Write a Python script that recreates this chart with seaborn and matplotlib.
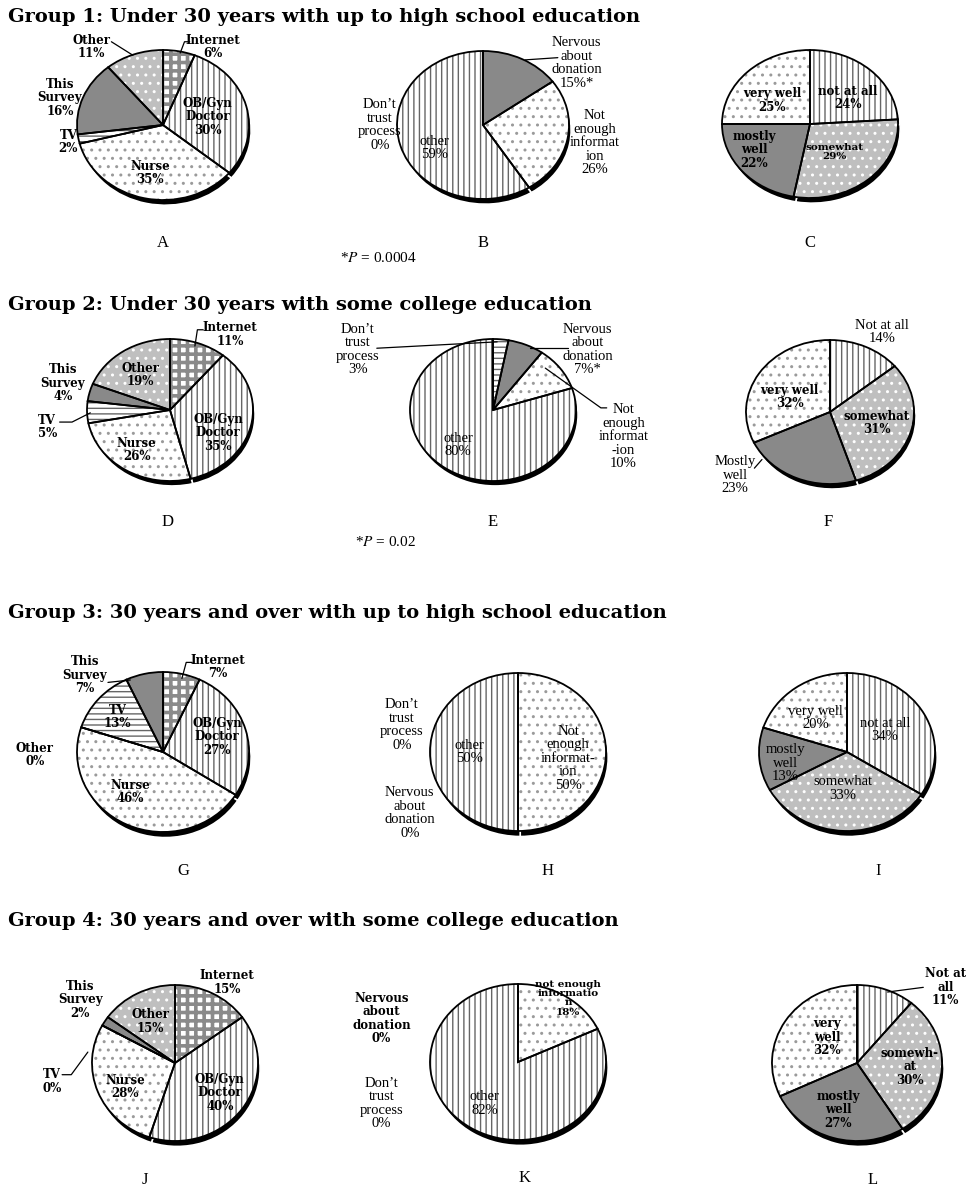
import numpy as np
import pandas as pd
import seaborn as sns
import matplotlib.pyplot as plt

sns.set_theme(style="white")
plt.rcParams["font.family"] = ["DejaVu Serif"]
plt.rcParams["mathtext.fontset"] = "stix"
plt.rcParams["text.color"] = "black"

W, H = 966, 1193

# ---- data ----
group_titles = [
    "Group 1: Under 30 years with up to high school education",
    "Group 2: Under 30 years with some college education",
    "Group 3: 30 years and over with up to high school education",
    "Group 4: 30 years and over with some college education",
]
panel_letters = list("ABCDEFGHIJKL")
p_notes = ["*$P$ = 0.0004", "*$P$ = 0.02"]

# where did you hear about cord blood donation
a_cats = ["Internet", "OB/Gyn Doctor", "Nurse", "TV", "This Survey", "Other"]
a_vals = [6, 30, 35, 2, 16, 11]
d_cats = ["Internet", "OB/Gyn Doctor", "Nurse", "TV", "This Survey", "Other"]
d_vals = [11, 35, 26, 5, 4, 19]
g_cats = ["Internet", "OB/Gyn Doctor", "Nurse", "Other", "TV", "This Survey"]
g_vals = [7, 27, 46, 0, 13, 7]
j_cats = ["Internet", "OB/Gyn Doctor", "Nurse", "TV", "This Survey", "Other"]
j_vals = [15, 40, 28, 0, 2, 15]

# reasons for not donating
b_cats = ["Nervous about donation", "Not enough information", "other", "Don't trust process"]
b_vals = [15, 26, 59, 0]
e_cats = ["Don't trust process", "Nervous about donation", "Not enough information", "other"]
e_vals = [3, 7, 10, 80]
h_cats = ["Not enough information", "other", "Nervous about donation", "Don't trust process"]
h_vals = [50, 50, 0, 0]
k_cats = ["not enough information", "other", "Nervous about donation", "Don't trust process"]
k_vals = [18, 82, 0, 0]

# how well informed
c_cats = ["not at all", "somewhat", "mostly well", "very well"]
c_vals = [24, 29, 22, 25]
f_cats = ["Not at all", "somewhat", "Mostly well", "very well"]
f_vals = [14, 31, 23, 32]
i_cats = ["not at all", "somewhat", "mostly well", "very well"]
i_vals = [34, 33, 13, 20]
l_cats = ["Not at all", "somewhat", "mostly well", "very well"]
l_vals = [11, 30, 27, 32]

# label texts as printed in the figure
a_text = ["Internet\n{}%", "OB/Gyn\nDoctor\n{}%", "Nurse\n{}%", "TV\n{}%", "This\nSurvey\n{}%", "Other\n{}%"]
d_text = a_text
g_text = ["Internet\n{}%", "OB/Gyn\nDoctor\n{}%", "Nurse\n{}%", "Other\n{}%", "TV\n{}%", "This\nSurvey\n{}%"]
j_text = a_text
b_text = ["Nervous\nabout\ndonation\n{}%*", "Not\nenough\ninformat\nion\n{}%", "other\n{}%", "Don\u2019t\ntrust\nprocess\n{}%"]
e_text = ["Don\u2019t\ntrust\nprocess\n{}%", "Nervous\nabout\ndonation\n{}%*", "Not\nenough\ninformat\n-ion\n{}%", "other\n{}%"]
h_text = ["Not\nenough\ninformat-\nion\n{}%", "other\n{}%", "Nervous\nabout\ndonation\n{}%", "Don\u2019t\ntrust\nprocess\n{}%"]
k_text = ["not enough\ninformatio\nn\n{}%", "other\n{}%", "Nervous\nabout\ndonation\n{}%", "Don\u2019t\ntrust\nprocess\n{}%"]
c_text = ["not at all\n{}%", "somewhat\n{}%", "mostly\nwell\n{}%", "very well\n{}%"]
f_text = ["Not at all\n{}%", "somewhat\n{}%", "Mostly\nwell\n{}%", "very well\n{}%"]
i_text = ["not at all\n{}%", "somewhat\n{}%", "mostly\nwell\n{}%", "very well\n{}%"]
l_text = ["Not at\nall\n{}%", "somewh-\nat\n{}%", "mostly\nwell\n{}%", "very\nwell\n{}%"]

# ---- styles: face, hatch, hatch colour ----
greys = sns.color_palette("Greys", 10)
dark, light = greys[5], greys[3]
STYLE = {
    "internet": ("white", "++", "#8a8a8a"),
    "ob/gyn doctor": ("white", "|||", "#666666"),
    "nurse": ("white", "..", "#9a9a9a"),
    "tv": ("white", "---", "#666666"),
    "this survey": (dark, None, None),
    "other_src": (light, "..", "white"),
    "nervous about donation": (dark, None, None),
    "not enough information": ("white", "..", "#9a9a9a"),
    "other": ("white", "|||", "#666666"),
    "don't trust process": ("white", "---", "#666666"),
    "not at all": ("white", "|||", "#666666"),
    "somewhat": (light, "..", "white"),
    "mostly well": (dark, None, None),
    "very well": ("white", "..", "#9a9a9a"),
}

BOLD = dict(family="DejaVu Serif", weight="bold", size=8.5)
REG = dict(family="Liberation Serif", weight="normal", size=10.5)
SMALL = dict(family="DejaVu Serif", weight="bold", size=7.5)

# ---- layout (pixels / pie units) ----
pies = [
    dict(cats=a_cats, vals=a_vals, text=a_text, src=True, c=(163, 125), r=(86, 75),
         pos=[(0.58, 1.04), (0.52, 0.11), (-0.15, -0.64), (-1.10, -0.23), (-1.2, 0.36), (-0.83, 1.04)],
         font=[BOLD] * 6,
         lines=[[(0.31, 1.11), (0.25, 1.11), (0.2, 0.96)], [(-0.6, 1.11), (-0.35, 0.93)]]),
    dict(cats=b_cats, vals=b_vals, text=b_text, src=False, c=(483, 125), r=(86, 74),
         pos=[(1.09, 0.84), (1.30, -0.24), (-0.56, -0.31), (-1.2, 0.0)],
         font=[REG] * 4,
         lines=[[(0.87, 0.91), (0.49, 0.88)]]),
    dict(cats=c_cats, vals=c_vals, text=c_text, src=False, c=(810, 124), r=(88, 74),
         pos=[(0.43, 0.35), (0.28, -0.38), (-0.63, -0.35), (-0.43, 0.32)],
         font=[BOLD, dict(BOLD, size=7.5), BOLD, BOLD], lines=[]),
    dict(cats=d_cats, vals=d_vals, text=d_text, src=True, c=(170, 410), r=(83, 71),
         pos=[(0.72, 1.06), (0.58, -0.32), (-0.40, -0.56), (-1.48, -0.24), (-1.29, 0.38), (-0.36, 0.49)],
         font=[BOLD] * 6,
         lines=[[(0.4, 1.13), (0.33, 1.13), (0.3, 0.9)], [(-1.33, -0.17), (-1.18, -0.17), (-0.96, -0.04)]]),
    dict(cats=e_cats, vals=e_vals, text=e_text, src=False, c=(493, 410), r=(83, 71),
         pos=[(-1.63, 0.85), (1.14, 0.85), (1.57, -0.38), (-0.42, -0.49)],
         font=[REG] * 4,
         lines=[[(-1.4, 0.87), (0.05, 0.96)], [(0.9, 0.87), (0.45, 0.87)], [(1.37, 0.03), (1.3, 0.03), (0.63, 0.59)]]),
    dict(cats=f_cats, vals=f_vals, text=f_text, src=False, c=(830, 412), r=(84, 72),
         pos=[(0.62, 1.11), (0.56, -0.15), (-1.13, -0.88), (-0.48, 0.21)],
         font=[REG, BOLD, REG, BOLD],
         lines=[[(-0.9, -0.78), (-0.81, -0.66)]]),
    dict(cats=g_cats, vals=g_vals, text=g_text, src=True, c=(163, 752), r=(86, 80),
         pos=[(0.64, 1.06), (0.63, 0.19), (-0.38, -0.5), (-1.49, -0.04), (-0.53, 0.44), (-0.91, 0.96)],
         font=[BOLD] * 6,
         lines=[[(0.34, 1.12), (0.27, 1.12), (0.22, 0.92)], [(-0.64, 0.87), (-0.38, 0.9)]]),
    dict(cats=h_cats, vals=h_vals, text=h_text, src=False, c=(518, 752), r=(88, 79),
         pos=[(0.57, -0.08), (-0.55, 0.0), (-1.23, -0.77), (-1.32, 0.34)],
         font=[REG] * 4, lines=[]),
    dict(cats=i_cats, vals=i_vals, text=i_text, src=False, c=(847, 752), r=(88, 79),
         pos=[(0.43, 0.28), (-0.05, -0.46), (-0.70, -0.14), (-0.36, 0.43)],
         font=[REG] * 4, lines=[]),
    dict(cats=j_cats, vals=j_vals, text=j_text, src=True, c=(175, 1063), r=(83, 78),
         pos=[(0.63, 1.03), (0.54, -0.38), (-0.6, -0.31), (-1.48, -0.24), (-1.14, 0.81), (-0.3, 0.53)],
         font=[BOLD] * 6,
         lines=[[(-1.36, -0.15), (-1.25, -0.15), (-1.05, 0.14)]]),
    dict(cats=k_cats, vals=k_vals, text=k_text, src=False, c=(518, 1062), r=(88, 78),
         pos=[(0.57, 0.82), (-0.38, -0.53), (-1.55, 0.56), (-1.55, -0.53)],
         font=[SMALL, REG, BOLD, REG], lines=[]),
    dict(cats=l_cats, vals=l_vals, text=l_text, src=False, c=(857, 1063), r=(85, 78),
         pos=[(1.04, 0.97), (0.62, -0.05), (-0.22, -0.6), (-0.35, 0.33)],
         font=[BOLD] * 4,
         lines=[[(0.78, 0.97), (0.36, 0.91)]]),
]
letter_xy = [(163, 243), (483, 243), (810, 243), (168, 522), (493, 522), (828, 522),
             (183, 871), (548, 871), (878, 871), (145, 1180), (525, 1178), (873, 1180)]
title_y = [17, 305, 613, 921]
note_xy = [(340, 258), (355, 542)]

fig = plt.figure(figsize=(W / 100, H / 100), dpi=100)


def style_for(cat, src):
    key = cat.lower().replace("\u2019", "'")
    if src and key == "other":
        key = "other_src"
    return STYLE[key]


def draw_pie(p):
    cx, cy = p["c"]
    rx, ry = p["r"]
    ax = fig.add_axes([(cx - rx) / W, 1 - (cy + ry) / H, 2 * rx / W, 2 * ry / H])
    vals, cats = p["vals"], p["cats"]
    n = len(vals)
    # thick dark rim under the pie
    ax.pie(vals, startangle=90, counterclock=False, center=(0.025, -0.07),
           colors=["black"] * n, wedgeprops=dict(edgecolor="white", linewidth=1.2))
    faces = [style_for(c, p["src"])[0] for c in cats]
    wedges, _ = ax.pie(vals, startangle=90, counterclock=False, colors=faces,
                       wedgeprops=dict(linewidth=0))
    for w, c in zip(wedges, cats):
        face, hatch, hcol = style_for(c, p["src"])
        if hatch:
            w.set_hatch(hatch)
            w.set_edgecolor(hcol)
            if c.lower() == "internet" and hasattr(w, "set_hatch_linewidth"):
                w.set_hatch_linewidth(2.6)
    ax.pie(vals, startangle=90, counterclock=False,
           wedgeprops=dict(fill=False, edgecolor="black", linewidth=1.3))
    ax.set_aspect("auto")
    ax.set_xlim(-1, 1)
    ax.set_ylim(-1, 1)
    ax.axis("off")
    for t, v, (x, y), f in zip(p["text"], vals, p["pos"], p["font"]):
        ax.text(x, y, t.format(v), ha="center", va="center", linespacing=1.05,
                clip_on=False, zorder=5, color="black", **f)
    for ln in p["lines"]:
        xs, ys = zip(*ln)
        ax.plot(xs, ys, color="black", lw=0.9, clip_on=False, zorder=4)


for p in pies:
    draw_pie(p)

for t, y in zip(group_titles, title_y):
    fig.text(8 / W, 1 - y / H, t, ha="left", va="center", fontsize=14,
             fontweight="bold", family="DejaVu Serif", color="black")

for l, (x, y) in zip(panel_letters, letter_xy):
    fig.text(x / W, 1 - y / H, l, ha="center", va="center", fontsize=12,
             family="Liberation Serif", color="black")

for t, (x, y) in zip(p_notes, note_xy):
    fig.text(x / W, 1 - y / H, t, ha="left", va="center", fontsize=11,
             family="Liberation Serif", color="black")

fig.savefig("out.png", dpi=100)
